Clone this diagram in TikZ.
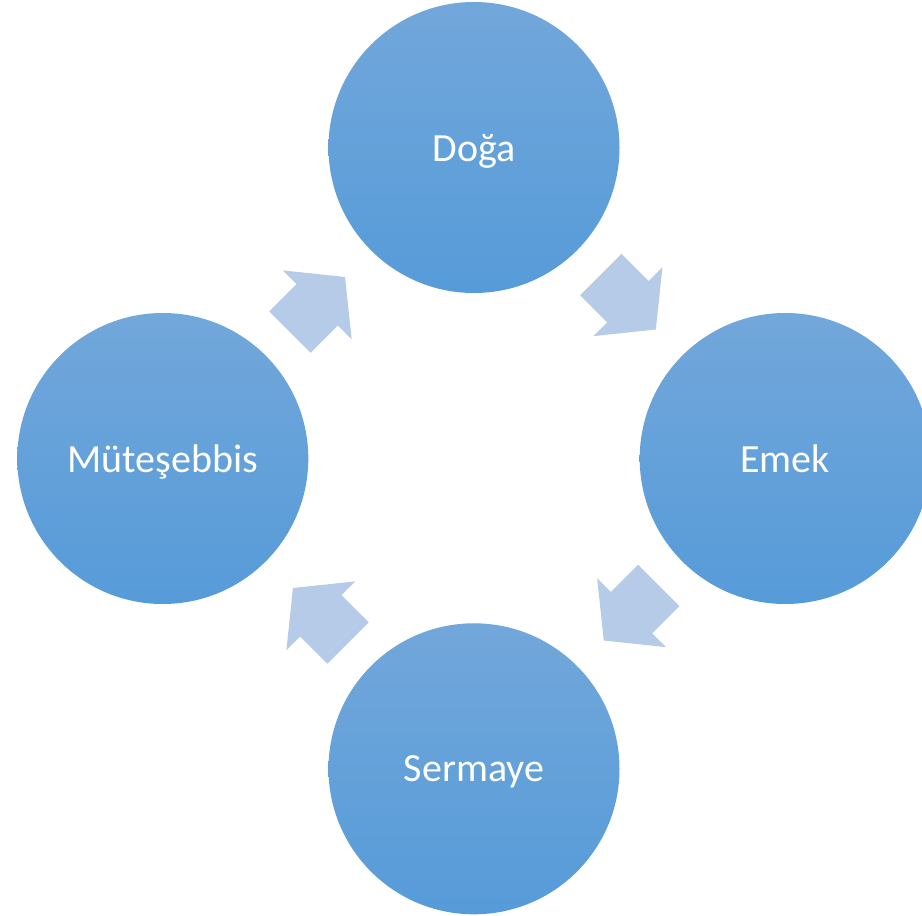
\documentclass[tikz,border=0pt]{standalone}
\usepackage{fontspec}
\setmainfont{Carlito}
\definecolor{circtop}{RGB}{114,167,218}
\definecolor{circbot}{RGB}{86,155,217}
\definecolor{arrowfill}{RGB}{182,203,231}
\tikzset{
  bubble/.style={circle, minimum size=291pt, inner sep=0pt, top color=circtop, bottom color=circbot, draw=none, text=white, text depth=0pt, font=\fontsize{40}{48}\selectfont},
  blockarrow/.style={fill=arrowfill, draw=none}
}
\newcommand{\blockarrowpath}{(0,29.25) -- (38.4,29.25) -- (38.4,48.8) -- (77.8,0) -- (38.4,-48.8) -- (38.4,-29.25) -- (0,-29.25) -- cycle}
\begin{document}
\begin{tikzpicture}[x=1pt,y=-1pt]
\useasboundingbox (0,0) rectangle (922,916);
\begin{scope}
\clip (0,0) rectangle (922,916);
\node[bubble] (doga) at (474,147.5) {Doğa};
\node[bubble] (emek) at (785.2,458.5) {Emek};
\node[bubble] (sermaye) at (474,768.8) {Sermaye};
\node[bubble] (mut) at (162.8,458.5) {Müteşebbis};
\end{scope}
\begin{scope}[shift={(600.8,274.5)}, rotate=-45]
\fill[blockarrow] \blockarrowpath;
\end{scope}
\begin{scope}[shift={(658.8,585.5)}, rotate=-135]
\fill[blockarrow] \blockarrowpath;
\end{scope}
\begin{scope}[shift={(348,643)}, rotate=135]
\fill[blockarrow] \blockarrowpath;
\end{scope}
\begin{scope}[shift={(290,332)}, rotate=45]
\fill[blockarrow] \blockarrowpath;
\end{scope}
\end{tikzpicture}
\end{document}
